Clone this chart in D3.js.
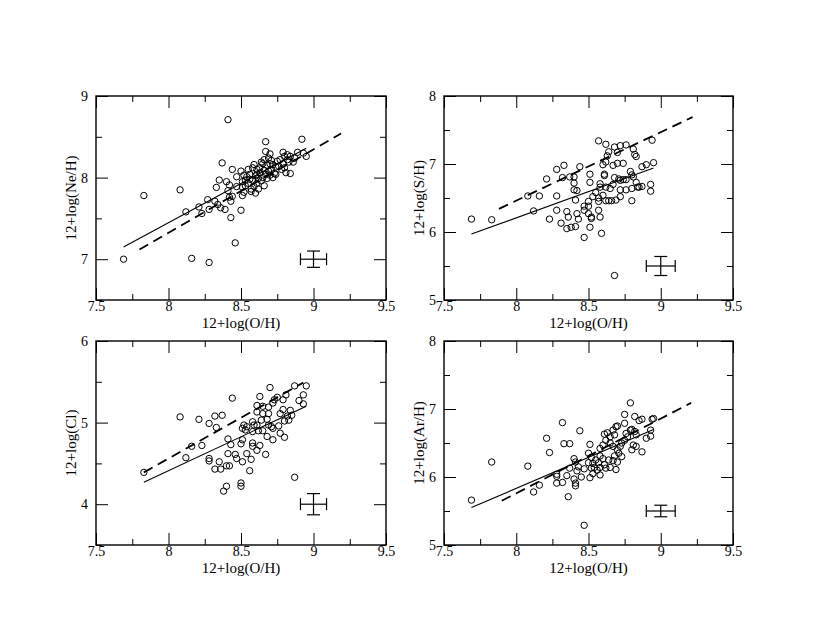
<!DOCTYPE html>
<html><head><meta charset="utf-8">
<script src="https://cdn.jsdelivr.net/npm/d3@7"></script>
<style>
body{margin:0;background:#fff}
svg text{font-family:"Liberation Serif","Times New Roman",serif !important;fill:#000}
</style></head>
<body><svg id="c" width="830" height="642"></svg>
<script>
// ---- data ----
const xMajor = [7.5, 8, 8.5, 9, 9.5];
const xMinor = [7.75, 8.25, 8.75, 9.25];
const xTitle = "12+log(O/H)";

const neData = [[7.69,7.00],[7.83,7.78],[8.08,7.85],[8.12,7.58],[8.16,7.01],[8.21,7.64],[8.23,7.56],[8.27,7.73],[8.28,7.61],[8.28,6.96],[8.32,7.71],[8.33,7.88],[8.34,7.67],[8.35,7.97],[8.36,7.63],[8.37,8.18],[8.39,7.61],[8.41,8.71],[8.40,7.95],[8.41,7.84],[8.42,7.91],[8.42,7.76],[8.43,7.51],[8.43,7.71],[8.44,8.10],[8.44,7.77],[8.46,7.20],[8.47,7.89],[8.47,8.01],[8.50,8.08],[8.50,7.60],[8.51,7.88],[8.51,7.78],[8.51,7.95],[8.52,8.03],[8.52,7.82],[8.53,7.97],[8.54,8.01],[8.55,7.93],[8.56,8.04],[8.57,7.86],[8.57,7.83],[8.58,8.12],[8.58,7.97],[8.59,8.16],[8.59,7.89],[8.60,8.02],[8.60,7.81],[8.61,8.10],[8.61,7.93],[8.62,7.99],[8.62,7.86],[8.63,8.06],[8.64,8.19],[8.64,7.96],[8.65,8.17],[8.65,8.00],[8.66,7.90],[8.66,8.09],[8.67,8.32],[8.67,8.44],[8.67,8.04],[8.68,8.15],[8.68,7.99],[8.69,8.08],[8.69,8.24],[8.70,8.29],[8.70,8.03],[8.71,8.21],[8.71,8.10],[8.72,8.00],[8.72,8.16],[8.73,8.05],[8.74,8.13],[8.75,8.20],[8.76,8.14],[8.77,8.22],[8.78,8.10],[8.79,8.31],[8.79,8.17],[8.80,8.26],[8.80,8.12],[8.81,8.06],[8.82,8.22],[8.82,8.28],[8.83,8.19],[8.84,8.26],[8.84,8.05],[8.86,8.19],[8.87,8.24],[8.89,8.31],[8.92,8.47],[8.93,8.30],[8.95,8.26],[8.55,8.10],[8.63,8.12],[8.66,8.22],[8.70,8.17],[8.74,8.04],[8.61,8.04],[8.56,7.98],[8.53,7.90]];

const sData = [[7.69,6.19],[7.83,6.18],[8.08,6.53],[8.12,6.31],[8.16,6.53],[8.21,6.78],[8.23,6.19],[8.28,6.92],[8.28,6.53],[8.28,6.32],[8.31,6.13],[8.32,6.80],[8.33,6.98],[8.35,6.30],[8.35,6.05],[8.36,6.22],[8.37,6.81],[8.38,6.07],[8.40,6.81],[8.40,6.72],[8.40,6.62],[8.41,6.47],[8.41,6.08],[8.42,6.61],[8.42,6.27],[8.43,6.19],[8.44,6.96],[8.47,5.92],[8.47,6.38],[8.47,6.32],[8.50,6.45],[8.50,6.38],[8.50,6.27],[8.51,6.73],[8.51,6.85],[8.51,6.07],[8.52,6.20],[8.52,6.22],[8.53,6.52],[8.55,6.58],[8.57,6.45],[8.57,6.50],[8.57,7.34],[8.57,6.32],[8.58,6.22],[8.58,6.71],[8.58,6.66],[8.59,5.98],[8.60,6.54],[8.60,6.99],[8.61,6.83],[8.61,6.85],[8.62,6.66],[8.62,6.46],[8.62,7.03],[8.62,7.29],[8.63,7.12],[8.64,7.18],[8.64,6.46],[8.65,6.64],[8.66,6.46],[8.67,6.98],[8.67,6.70],[8.68,7.25],[8.68,5.36],[8.68,6.80],[8.69,6.47],[8.70,7.01],[8.70,7.17],[8.71,6.78],[8.72,6.62],[8.72,6.52],[8.72,6.76],[8.72,7.27],[8.74,6.77],[8.74,7.01],[8.76,7.28],[8.76,6.77],[8.76,6.62],[8.79,6.89],[8.80,6.84],[8.80,6.46],[8.80,6.64],[8.81,7.22],[8.81,6.81],[8.82,7.14],[8.83,6.73],[8.83,7.11],[8.84,6.66],[8.85,6.66],[8.87,6.67],[8.87,6.96],[8.90,6.99],[8.93,6.70],[8.93,6.60],[8.94,7.35],[8.95,7.02]];

const clData = [[7.83,4.39],[8.08,5.07],[8.12,4.57],[8.16,4.71],[8.21,5.04],[8.23,4.72],[8.28,4.99],[8.28,4.56],[8.28,4.53],[8.32,5.08],[8.33,4.94],[8.32,4.43],[8.35,4.52],[8.36,4.43],[8.37,5.09],[8.38,4.16],[8.40,4.22],[8.40,4.47],[8.42,4.47],[8.41,4.80],[8.41,4.62],[8.43,4.73],[8.44,5.30],[8.46,4.61],[8.47,4.56],[8.50,4.26],[8.50,4.22],[8.51,4.52],[8.50,4.74],[8.51,4.79],[8.51,4.93],[8.52,4.97],[8.53,4.91],[8.54,4.95],[8.54,4.62],[8.56,4.41],[8.57,4.55],[8.58,4.71],[8.58,4.75],[8.58,4.89],[8.58,5.01],[8.59,4.97],[8.61,4.66],[8.61,4.97],[8.61,5.13],[8.61,5.21],[8.62,4.90],[8.63,4.72],[8.63,5.32],[8.64,5.03],[8.65,5.11],[8.65,5.20],[8.65,4.90],[8.67,4.61],[8.68,5.04],[8.68,4.83],[8.69,5.11],[8.69,5.19],[8.69,4.97],[8.70,5.43],[8.71,4.95],[8.72,4.93],[8.72,5.24],[8.72,4.79],[8.73,5.28],[8.75,5.31],[8.76,4.96],[8.77,4.87],[8.77,5.11],[8.79,5.28],[8.79,5.16],[8.80,5.02],[8.80,4.82],[8.81,5.34],[8.82,5.08],[8.83,5.03],[8.84,5.15],[8.85,5.09],[8.87,4.33],[8.87,5.45],[8.90,5.27],[8.93,5.23],[8.93,5.34],[8.95,5.45]];

const arData = [[7.69,5.66],[7.83,6.22],[8.08,6.16],[8.12,5.78],[8.16,5.88],[8.21,6.57],[8.23,6.36],[8.28,5.91],[8.28,6.01],[8.28,6.04],[8.32,5.92],[8.32,6.80],[8.33,6.49],[8.35,6.02],[8.36,5.71],[8.37,6.49],[8.37,6.13],[8.40,6.27],[8.40,5.97],[8.41,5.87],[8.41,5.91],[8.41,6.22],[8.42,6.09],[8.43,6.15],[8.44,6.68],[8.45,6.00],[8.47,5.29],[8.47,6.12],[8.50,6.21],[8.50,6.35],[8.51,5.99],[8.51,6.48],[8.52,6.29],[8.52,6.13],[8.53,6.05],[8.53,6.20],[8.54,6.14],[8.55,6.25],[8.56,6.10],[8.57,6.21],[8.58,6.03],[8.58,6.14],[8.58,6.31],[8.58,6.42],[8.60,6.27],[8.60,6.47],[8.61,6.18],[8.61,6.63],[8.62,6.13],[8.62,6.54],[8.63,6.65],[8.64,6.25],[8.65,6.14],[8.65,6.50],[8.65,6.59],[8.67,6.45],[8.67,6.24],[8.67,6.69],[8.68,6.31],[8.68,6.62],[8.69,6.74],[8.69,6.11],[8.70,6.40],[8.70,6.75],[8.70,6.22],[8.71,6.35],[8.72,6.45],[8.73,6.30],[8.73,6.50],[8.75,6.54],[8.75,6.92],[8.75,6.79],[8.76,6.64],[8.77,6.59],[8.79,7.09],[8.79,6.69],[8.80,6.70],[8.80,6.40],[8.81,6.47],[8.82,6.67],[8.82,6.89],[8.83,6.45],[8.83,6.62],[8.85,6.83],[8.87,6.37],[8.87,6.85],[8.90,6.57],[8.93,6.60],[8.93,6.69],[8.94,6.85],[8.95,6.86]];

// fit lines: [[x1,y1],[x2,y2]]
const solidFits  = [[[7.69,7.15],[8.95,8.36]], [[7.69,5.97],[8.95,6.94]], [[7.83,4.27],[8.95,5.20]], [[7.69,5.55],[8.95,6.70]]];
const dashedFits = [[[7.80,7.12],[9.19,8.54]], [[7.88,6.34],[9.22,7.69]], [[7.83,4.39],[8.93,5.49]], [[7.90,5.65],[9.21,7.09]]];
// typical error bars: [x, y, dx, dy]
const errBars = [[9,7,0.09,0.10],[9,5.5,0.10,0.14],[9,4,0.09,0.13],[9,5.5,0.10,0.085]];

const yTitles = ["12+log(Ne/H)","12+log(S/H)","12+log(Cl)","12+log(Ar/H)"];
const yDomains = [[6.5,9],[5,8],[3.5,6],[5,8]];
const yMajor = [[7,8,9],[5,6,7,8],[4,5,6],[5,6,7,8]];
const yMinor = [[6.5,7.5,8.5],[5.5,6.5,7.5],[3.5,4.5,5.5],[5.5,6.5,7.5]];
const datasets = [neData, sData, clData, arData];

// ---- layout ----
const FONT = '"Liberation Serif","Times New Roman",serif';
const boxes = [
  {l:96,  r:386, t:96,  b:300},
  {l:444, r:733, t:96,  b:300},
  {l:96,  r:386, t:341, b:545},
  {l:444, r:733, t:341, b:545}
];

const svg = d3.select("#c");
svg.append("rect").attr("width",830).attr("height",642).attr("fill","#fff");

boxes.forEach((bx, i) => {
  const x = d3.scaleLinear().domain([7.5, 9.5]).range([bx.l, bx.r]);
  const y = d3.scaleLinear().domain(yDomains[i]).range([bx.b, bx.t]);
  const g = svg.append("g");

  const strip = sel => { sel.attr("font-family", FONT); sel.select(".domain").remove(); sel.selectAll("line").attr("stroke","#000").attr("stroke-width",1); };

  g.append("g").attr("transform",`translate(0,${bx.b})`)
    .call(d3.axisBottom(x).tickValues(xMajor).tickSizeInner(-12).tickSizeOuter(0)
      .tickFormat(d => String(d)))
    .call(strip)
    .selectAll("text").attr("font-size",14).style("font-family",FONT).attr("y",1).attr("dy","0.71em");
  g.append("g").attr("transform",`translate(0,${bx.b})`)
    .call(d3.axisBottom(x).tickValues(xMinor).tickSizeInner(-6).tickSizeOuter(0).tickFormat(""))
    .call(strip);
  g.append("g").attr("transform",`translate(0,${bx.t})`)
    .call(d3.axisTop(x).tickValues(xMajor).tickSizeInner(-12).tickSizeOuter(0).tickFormat(""))
    .call(strip);
  g.append("g").attr("transform",`translate(0,${bx.t})`)
    .call(d3.axisTop(x).tickValues(xMinor).tickSizeInner(-6).tickSizeOuter(0).tickFormat(""))
    .call(strip);
  g.append("g").attr("transform",`translate(${bx.l},0)`)
    .call(d3.axisLeft(y).tickValues(yMajor[i]).tickSizeInner(-12).tickSizeOuter(0).tickPadding(8)
      .tickFormat(d => String(d)))
    .call(strip)
    .selectAll("text").attr("font-size",14).style("font-family",FONT);
  g.append("g").attr("transform",`translate(${bx.l},0)`)
    .call(d3.axisLeft(y).tickValues(yMinor[i]).tickSizeInner(-6).tickSizeOuter(0).tickFormat(""))
    .call(strip);
  g.append("g").attr("transform",`translate(${bx.r},0)`)
    .call(d3.axisRight(y).tickValues(yMajor[i]).tickSizeInner(-12).tickSizeOuter(0).tickFormat(""))
    .call(strip);
  g.append("g").attr("transform",`translate(${bx.r},0)`)
    .call(d3.axisRight(y).tickValues(yMinor[i]).tickSizeInner(-6).tickSizeOuter(0).tickFormat(""))
    .call(strip);

  g.append("rect").attr("x",bx.l).attr("y",bx.t).attr("width",bx.r-bx.l).attr("height",bx.b-bx.t)
    .attr("fill","none").attr("stroke","#000").attr("stroke-width",1.4);

  g.append("text").attr("x",(bx.l+bx.r)/2).attr("y",bx.b+28).attr("text-anchor","middle")
    .attr("font-size",15).style("font-family",FONT).text(xTitle);
  const tx = bx.l - 20, ty = (bx.t+bx.b)/2;
  g.append("text").attr("transform",`translate(${tx},${ty}) rotate(-90)`).attr("text-anchor","middle")
    .attr("font-size",15).style("font-family",FONT).text(yTitles[i]);

  const line = d3.line().x(d => x(d[0])).y(d => y(d[1]));
  g.append("path").attr("d", line(solidFits[i])).attr("fill","none").attr("stroke","#000").attr("stroke-width",1.1);
  g.append("path").attr("d", line(dashedFits[i])).attr("fill","none").attr("stroke","#000").attr("stroke-width",1.8)
    .attr("stroke-dasharray","10,6");

  g.append("g").selectAll("circle").data(datasets[i]).join("circle")
    .attr("cx", d => x(d[0])).attr("cy", d => y(d[1])).attr("r", 3.2)
    .attr("fill","none").attr("stroke","#000").attr("stroke-width",1);

  const [ex, ey, dx, dy] = errBars[i];
  const eg = g.append("g").attr("stroke","#000").attr("stroke-width",1.2);
  eg.append("line").attr("x1",x(ex-dx)).attr("x2",x(ex+dx)).attr("y1",y(ey)).attr("y2",y(ey));
  eg.append("line").attr("x1",x(ex)).attr("x2",x(ex)).attr("y1",y(ey-dy)).attr("y2",y(ey+dy));
  [ex-dx, ex+dx].forEach(v => eg.append("line").attr("x1",x(v)).attr("x2",x(v)).attr("y1",y(ey)-6).attr("y2",y(ey)+6));
  [ey-dy, ey+dy].forEach(v => eg.append("line").attr("x1",x(ex)-6.5).attr("x2",x(ex)+6.5).attr("y1",y(v)).attr("y2",y(v)));
});
</script></body></html>
